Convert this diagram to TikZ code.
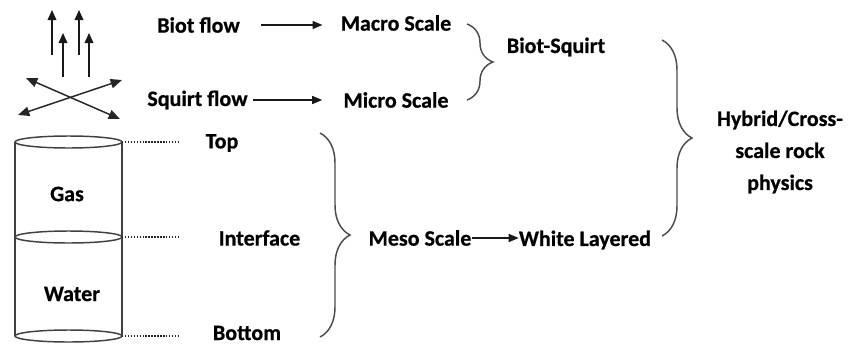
\documentclass[tikz,border=0pt]{standalone}
\usepackage{fontspec}
\setmainfont{Carlito}[BoldFeatures={FakeBold=0.6}]
\usetikzlibrary{arrows.meta,decorations.pathreplacing}
\begin{document}
\begin{tikzpicture}[x=0.75pt,y=-0.75pt,
  lbl/.style={font=\fontsize{16.5}{24}\selectfont\bfseries, text=black, inner sep=0pt},
  arr/.style={draw=black!90, line width=1.1pt, -{Triangle[length=7.5pt,width=6pt]}},
  uparr/.style={draw=black!90, line width=1.1pt, -{Triangle[length=7.5pt,width=6.5pt]}},
  dblarr/.style={draw=black!85, line width=1.1pt, {Triangle[length=8.5pt,width=7pt]}-{Triangle[length=8.5pt,width=7pt]}},
  brc/.style={draw=black!70, line width=1.1pt, decorate, decoration={brace, amplitude=#1}},
  brc/.default=22.5pt,
  cyl/.style={draw=black!75, line width=1.1pt},
  dots/.style={draw=black!85, line width=1.3pt, dash pattern=on 1.1pt off 1.1pt}]
\useasboundingbox (0,0) rectangle (850,347);

% flow sketches: upward arrows and crossing double arrows
\draw[uparr] (52,55) -- (52,10);
\draw[uparr] (79,55) -- (79,10);
\draw[uparr] (63,77) -- (63,33);
\draw[uparr] (89,77) -- (89,33);
\draw[dblarr] (26,78) -- (120,119);
\draw[dblarr] (18,115) -- (122,80);

% gas/water cylinder
\draw[cyl] (15,142) -- (15,336);
\draw[cyl] (122,142) -- (122,336);
\draw[cyl] (68.5,142) ellipse [x radius=40.1pt, y radius=4.5pt];
\draw[cyl] (68.5,237) ellipse [x radius=40.1pt, y radius=4.5pt];
\draw[cyl] (68.5,336) ellipse [x radius=40.1pt, y radius=4.5pt];
\node[lbl] (gas) at (67,194) {Gas};
\node[lbl] (water) at (72,294) {Water};

% labels
\node[lbl] (biot) at (198.5,25) {Biot flow};
\node[lbl] (squirt) at (197.5,100) {Squirt flow};
\node[lbl] (macro) at (396,23) {Macro Scale};
\node[lbl] (micro) at (396,100) {Micro Scale};
\node[lbl] (bsq) at (556,47) {Biot-Squirt};
\node[lbl] (top) at (222,143) {Top};
\node[lbl] (intf) at (259.5,238) {Interface};
\node[lbl] (bot) at (247,333) {Bottom};
\node[lbl] (meso) at (420,238) {Meso Scale};
\node[lbl] (white) at (585,240) {White Layered};
\node[lbl, align=center] (hyb) at (780,152) {Hybrid/Cross-\\scale rock\\physics};

% dotted leaders from the cylinder levels
\coordinate (cT) at (122,142);
\coordinate (cI) at (122,237);
\coordinate (cB) at (122,336);
\coordinate (dT) at (180,142);
\coordinate (dI) at (180,237);
\coordinate (dB) at (180,336);
\draw[dots] (cT) -- (dT);
\draw[dots] (cI) -- (dI);
\draw[dots] (cB) -- (dB);

% arrows
\draw[arr] ([xshift=15.75pt]biot.east) -- ([xshift=-13.5pt]biot.east -| macro.west);
\draw[arr] ([xshift=3.75pt]squirt.east) -- ([xshift=-15.75pt]squirt.east -| micro.west);
\draw[arr] (meso.east) -- (meso.east -| white.west);

% braces
\coordinate (s1) at (467,24);
\coordinate (s2) at (467,100);
\draw[brc=19.5pt] (s1) -- (s2);
\coordinate (m1) at (320,133);
\coordinate (m2) at (320,337);
\draw[brc] (m1) -- (m2);
\coordinate (h1) at (662,40);
\coordinate (h2) at (662,236);
\draw[brc] (h1) -- (h2);
\end{tikzpicture}
\end{document}
